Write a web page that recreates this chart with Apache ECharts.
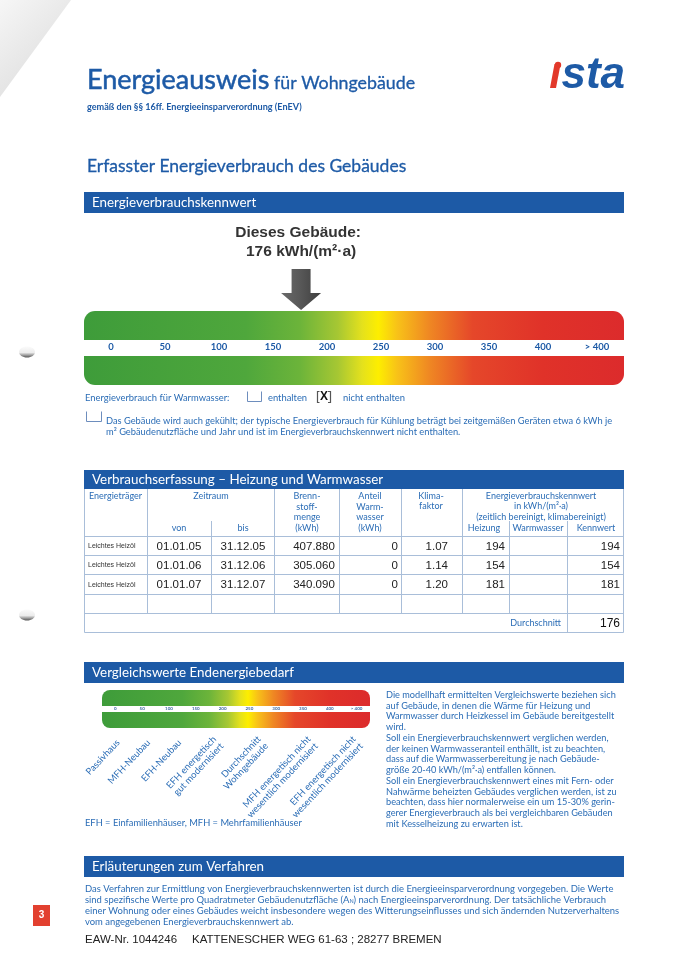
<!DOCTYPE html>
<html>
<head>
<meta charset="utf-8" />
<title>Energieausweis</title>
<script src="https://cdn.jsdelivr.net/npm/echarts@6/dist/echarts.min.js"></script>
<style>
  html, body { margin: 0; padding: 0; background: #fff; }
  #page { width: 673px; height: 960px; }
</style>
</head>
<body>
<div id="page"></div>
<script type="text/javascript">
// Skala Energieverbrauchskennwert
var scaleLabels = ["0", "50", "100", "150", "200", "250", "300", "350", "400", "> 400"];
var scaleMin = -25, scaleMax = 475;
var buildingValue = 176;

// Vergleichswerte (Lage auf der kleinen Skala)
var compareNames = ["Passivhaus", "MFH-Neubau", "EFH-Neubau", "EFH energetisch\ngut modernisiert",
  "Durchschnitt\nWohngebäude", "MFH energetisch nicht\nwesentlich modernisiert",
  "EFH energetisch nicht\nwesentlich modernisiert"];
var compareValues = [5, 62, 120, 192, 275, 368, 452];

// Verbrauchserfassung
var carriers = ["Leichtes Heizöl", "Leichtes Heizöl", "Leichtes Heizöl"];
var periodFrom = ["01.01.05", "01.01.06", "01.01.07"];
var periodTo = ["31.12.05", "31.12.06", "31.12.07"];
var fuelKwh = [407880, 305060, 340090];
var warmWaterKwh = [0, 0, 0];
var climateFactor = [1.07, 1.14, 1.20];
var heatingValue = [194, 154, 181];
var kennwert = [194, 154, 181];
var average = 176;

var blue = "#1d5aa6";
var textBlue = "#2b6db6";
var lineCol = "#a9bed9";
var bandStops = [
  { offset: 0, color: "#3e9c3a" }, { offset: 0.3, color: "#4fa73c" }, { offset: 0.4, color: "#6cb43a" },
  { offset: 0.47, color: "#a6c733" }, { offset: 0.515, color: "#e4e11d" }, { offset: 0.545, color: "#fdee00" },
  { offset: 0.58, color: "#f8c218" }, { offset: 0.64, color: "#ef8723" }, { offset: 0.72, color: "#e5472a" },
  { offset: 0.85, color: "#e03229" }, { offset: 1, color: "#dc2b2c" }
];

function fmtThousands(n) { return String(n).replace(/\B(?=(\d{3})+(?!\d))/g, "."); }

var g = [];
function T(x, y, text, o) {
  o = o || {};
  g.push({ type: "text", x: x, y: y, silent: true, z: 10, style: {
    text: text, fill: o.c || textBlue, fontSize: o.s || 9, fontFamily: o.f || "Lato",
    fontWeight: o.w || "normal", fontStyle: o.i || "normal", align: o.a || "left", verticalAlign: o.v || "middle",
    lineHeight: o.lh, rich: o.rich, stroke: o.st ? (o.c || textBlue) : null, lineWidth: o.st || 0 } });
}
function R(x, y, w, h, fill, r) {
  g.push({ type: "rect", silent: true, shape: { x: x, y: y, width: w, height: h, r: r || 0 }, style: { fill: fill } });
}
function L(x1, y1, x2, y2, c, w) {
  g.push({ type: "line", silent: true, z: 5, shape: { x1: x1, y1: y1, x2: x2, y2: y2 }, style: { stroke: c || lineCol, lineWidth: w || 1 } });
}
function P(points, c, w) {
  g.push({ type: "polyline", silent: true, shape: { points: points }, style: { stroke: c, lineWidth: w || 1, fill: null } });
}

// Papierecke und Lochung
g.push({ type: "polygon", silent: true, shape: { points: [[0, 0], [71, 0], [0, 97]] },
  style: { fill: new echarts.graphic.LinearGradient(0, 0, 1, 0.75, [
    { offset: 0, color: "#f6f6f6" }, { offset: 0.7, color: "#e4e4e4" }, { offset: 0.92, color: "#cdcdcd" }, { offset: 1, color: "#f0f0f0" }]) } });
[352, 615].forEach(function (y) {
  g.push({ type: "ellipse", silent: true, shape: { cx: 27, cy: y, rx: 8, ry: 5.5 },
    style: { fill: new echarts.graphic.LinearGradient(0, 0, 0, 1, [
      { offset: 0, color: "#fbfbfb" }, { offset: 0.55, color: "#ececec" }, { offset: 0.8, color: "#999" }, { offset: 1, color: "#555" }]) } });
});

// Kopf
T(87, 80, "Energieausweis", { s: 27, c: blue, st: 0.5 });
T(274, 83, "für Wohngebäude", { s: 17.8, c: blue, st: 0.3 });
T(87, 107, "gemäß den §§ 16ff. Energieeinsparverordnung (EnEV)", { s: 9.1, w: "bold", c: blue });
T(625, 76, "{r|ı}{b|sta}", { s: 44, a: "right", rich: {
  r: { fill: "#e2382a", fontSize: 44, fontFamily: "Liberation Sans", fontWeight: "bold", fontStyle: "italic" },
  b: { fill: blue, fontSize: 44, fontFamily: "Liberation Sans", fontWeight: "bold", fontStyle: "italic" } } });
g.push({ type: "circle", silent: true, shape: { cx: 558, cy: 65, r: 3.2 }, style: { fill: "#e2382a" } });
T(87, 166, "Erfasster Energieverbrauch des Gebäudes", { s: 17.5, c: blue, st: 0.3 });

// Blaue Balken
function bar(y, h, title, s) { R(84, y, 540, h, blue); T(92, y + h / 2, title, { s: s, c: "#fff" }); }
bar(192, 21, "Energieverbrauchskennwert", 13.4);
bar(470, 19, "Verbrauchserfassung – Heizung und Warmwasser", 13.4);
bar(662, 21, "Vergleichswerte Endenergiebedarf", 13.4);
bar(856, 21, "Erläuterungen zum Verfahren", 13.4);

// Warmwasser / Kühlung
var bs = 9.4;
T(85, 397.5, "Energieverbrauch für Warmwasser:", { s: bs });
P([[247.5, 391.5], [247.5, 401.5], [261.5, 401.5], [261.5, 391.5]], "#6d8dbd");
T(268, 397.5, "enthalten", { s: bs });
P([[319.5, 391.5], [317.5, 391.5], [317.5, 402.5], [319.5, 402.5]], "#555", 1.2);
P([[328, 391.5], [330.5, 391.5], [330.5, 402.5], [328, 402.5]], "#555", 1.2);
T(324, 397, "X", { s: 12, w: "bold", c: "#111", f: "Liberation Sans", a: "center" });
T(343, 397.5, "nicht enthalten", { s: bs });
P([[86.5, 411.5], [86.5, 421.5], [101.5, 421.5], [101.5, 411.5]], "#6d8dbd");
T(106, 420.5, "Das Gebäude wird auch gekühlt; der typische Energieverbrauch für Kühlung beträgt bei zeitgemäßen Geräten etwa 6 kWh je", { s: 9.3 });
T(106, 431.5, "m² Gebäudenutzfläche und Jahr und ist im Energieverbrauchskennwert nicht enthalten.", { s: 9.3 });

// Tabelle
var cols = [84.5, 147.5, 211.5, 274.5, 339.5, 401.5, 462.5, 509.5, 567.5, 623.5];
var rowY = [489, 536.5, 555.5, 574.5, 594.5, 613.5, 632.5];
L(cols[0], 489, cols[0], rowY[6]); L(cols[9], 489, cols[9], rowY[6]);
for (var r = 1; r < rowY.length; r++) L(cols[0], rowY[r], cols[9], rowY[r]);
[1, 3, 4, 5, 6].forEach(function (c) { L(cols[c], 489, cols[c], rowY[5]); });
[2, 7, 8].forEach(function (c) { L(cols[c], 521, cols[c], rowY[5]); });
L(cols[8], rowY[5], cols[8], rowY[6]);

var hs = 9, hl = 10.5;
T(89, 496, "Energieträger", { s: hs });
T(211, 496, "Zeitraum", { s: hs, a: "center" });
T(179, 528, "von", { s: hs, a: "center" });
T(243, 528, "bis", { s: hs, a: "center" });
T(307, 512, "Brenn-\nstoff-\nmenge\n(kWh)", { s: hs, a: "center", lh: hl });
T(370, 512, "Anteil\nWarm-\nwasser\n(kWh)", { s: hs, a: "center", lh: hl });
T(431, 501, "Klima-\nfaktor", { s: hs, a: "center", lh: hl });
T(541, 506.5, "Energieverbrauchskennwert\nin kWh/(m²·a)\n(zeitlich bereinigt, klimabereinigt)", { s: hs, a: "center", lh: hl });
T(484, 528, "Heizung", { s: hs, a: "center" });
T(538, 528, "Warmwasser", { s: hs, a: "center" });
T(596, 528, "Kennwert", { s: hs, a: "center" });

var ds = 11.5, dc = "#222", df = "Liberation Sans";
for (var i = 0; i < carriers.length; i++) {
  var cy = (rowY[i + 1] + rowY[i + 2]) / 2 + 0.5;
  T(88, cy, carriers[i], { s: 7, c: "#333", f: df });
  T(179, cy, periodFrom[i], { s: ds, c: dc, f: df, a: "center" });
  T(243, cy, periodTo[i], { s: ds, c: dc, f: df, a: "center" });
  T(314, cy, fmtThousands(fuelKwh[i]), { s: ds, c: dc, f: df, a: "center" });
  T(398, cy, String(warmWaterKwh[i]), { s: ds, c: dc, f: df, a: "right" });
  T(448, cy, climateFactor[i].toFixed(2), { s: ds, c: dc, f: df, a: "right" });
  T(505, cy, String(heatingValue[i]), { s: ds, c: dc, f: df, a: "right" });
  T(620, cy, String(kennwert[i]), { s: ds, c: dc, f: df, a: "right" });
}
T(561, 623, "Durchschnitt", { s: hs, a: "right" });
T(620, 623.5, String(average), { s: 12, c: "#111", f: df, a: "right" });

// Vergleichswerte Text
var cmpText = [
  "Die modellhaft ermittelten Vergleichswerte beziehen sich",
  "auf Gebäude, in denen die Wärme für Heizung und",
  "Warmwasser durch Heizkessel im Gebäude bereitgestellt",
  "wird.",
  "Soll ein Energieverbrauchskennwert verglichen werden,",
  "der keinen Warmwasseranteil enthällt, ist zu beachten,",
  "dass auf die Warmwasserbereitung je nach Gebäude-",
  "größe 20-40 kWh/(m²·a) entfallen können.",
  "Soll ein Energieverbrauchskennwert eines mit Fern- oder",
  "Nahwärme beheizten Gebäudes verglichen werden, ist zu",
  "beachten, dass hier normalerweise ein um 15-30% gerin-",
  "gerer Energieverbrauch als bei vergleichbaren Gebäuden",
  "mit Kesselheizung zu erwarten ist."
];
cmpText.forEach(function (s, k) { T(386, 695 + k * 10.75, s, { s: 9.2 }); });
T(85, 823, "EFH = Einfamilienhäuser, MFH = Mehrfamilienhäuser", { s: 9.3 });

// Erläuterungen
var expl = [
  "Das Verfahren zur Ermittlung von Energieverbrauchskennwerten ist durch die Energieeinsparverordnung vorgegeben. Die Werte",
  "sind spezifische Werte pro Quadratmeter Gebäudenutzfläche (A{sub|N}) nach Energieeinsparverordnung. Der tatsächliche Verbrauch",
  "einer Wohnung oder eines Gebäudes weicht insbesondere wegen des Witterungseinflusses und sich ändernden Nutzerverhaltens",
  "vom angegebenen Energieverbrauchskennwert ab."
];
expl.forEach(function (s, k) {
  T(85, 888.5 + k * 11.2, s, { s: 9.45, rich: { sub: { fontSize: 5.5, fill: textBlue, fontFamily: "Lato", verticalAlign: "bottom", padding: [4, 0, 0, 0] } } });
});
R(33, 905, 17, 21, "#e2402f");
T(41.5, 915.5, "3", { s: 10, w: "bold", c: "#fff", a: "center", f: "Liberation Sans" });
T(85, 940, "EAW-Nr. 1044246", { s: 11.5, c: "#222", f: df });
T(192, 940, "KATTENESCHER WEG 61-63 ; 28277 BREMEN", { s: 11.5, c: "#222", f: df });

// Farbskalen
function makeBand(frac, radius) {
  return function (params, api) {
    var a = api.coord([api.value(0), 0]);
    var b = api.coord([api.value(1), 0]);
    var top = params.coordSys.y, h = params.coordSys.height;
    var bh = Math.round(h * frac);
    var fill = new echarts.graphic.LinearGradient(0, 0, 1, 0, bandStops);
    return { type: "group", children: [
      { type: "rect", shape: { x: a[0], y: top, width: b[0] - a[0], height: bh, r: [radius, radius, 0, 0] }, style: { fill: fill } },
      { type: "rect", shape: { x: a[0], y: top + h - bh, width: b[0] - a[0], height: bh, r: [0, 0, radius, radius] }, style: { fill: fill } }
    ] };
  };
}

function renderArrow(params, api) {
  var p = api.coord([api.value(0), 74]);
  var x = p[0], y = p[1] - 1;
  var fill = new echarts.graphic.LinearGradient(0, 0, 1, 0, [
    { offset: 0, color: "#6a6a6a" }, { offset: 0.5, color: "#575757" }, { offset: 1, color: "#3e3e3e" }]);
  return { type: "group", children: [
    { type: "polygon", shape: { points: [[x - 9.5, y - 41], [x + 9.5, y - 41], [x + 9.5, y - 17], [x + 20, y - 17], [x, y], [x - 20, y - 17], [x - 9.5, y - 17]] }, style: { fill: fill } },
    { type: "text", x: x - 3, y: y - 77, style: { text: "Dieses Gebäude:", align: "center", verticalAlign: "middle", fill: "#333", fontSize: 15.5, fontWeight: "bold", fontFamily: "Liberation Sans" } },
    { type: "text", x: x, y: y - 58, style: { text: api.value(0) + " kWh/(m²·a)", align: "center", verticalAlign: "middle", fill: "#333", fontSize: 15.5, fontWeight: "bold", fontFamily: "Liberation Sans" } }
  ] };
}

function renderCompare(params, api) {
  var p = api.coord([api.value(0), 0]);
  return { type: "text", x: p[0], y: p[1] + 13, rotation: Math.PI * 0.26, style: {
    text: compareNames[params.dataIndex], align: "right", verticalAlign: "middle",
    fill: textBlue, fontSize: 9.4, fontFamily: "Lato", lineHeight: 10 } };
}

var chart = echarts.init(document.getElementById("page"));
chart.setOption({
  animation: false,
  backgroundColor: "#fff",
  grid: [
    { left: 84, top: 311, width: 540, height: 74 },
    { left: 102, top: 690, width: 268, height: 38 }
  ],
  xAxis: [
    { gridIndex: 0, type: "category", data: scaleLabels, position: "bottom", offset: -30,
      axisLine: { show: false }, axisTick: { show: false }, splitLine: { show: false },
      axisLabel: { inside: true, margin: 3, interval: 0, color: blue, fontSize: 9.5, fontWeight: "bold", fontFamily: "Lato" } },
    { gridIndex: 0, type: "value", min: scaleMin, max: scaleMax, show: false },
    { gridIndex: 1, type: "category", data: scaleLabels, position: "bottom", offset: -16,
      axisLine: { show: false }, axisTick: { show: false }, splitLine: { show: false },
      axisLabel: { inside: true, margin: 1, interval: 0, color: "#3f68a3", fontSize: 4.5, fontWeight: "bold", fontFamily: "Lato" } },
    { gridIndex: 1, type: "value", min: scaleMin, max: scaleMax, show: false }
  ],
  yAxis: [
    { gridIndex: 0, type: "value", min: 0, max: 74, show: false },
    { gridIndex: 1, type: "value", min: 0, max: 38, show: false }
  ],
  graphic: g,
  series: [
    { type: "custom", xAxisIndex: 1, yAxisIndex: 0, silent: true, z: 1, encode: { x: [0, 1] },
      data: [[scaleMin, scaleMax]], renderItem: makeBand(0.395, 11) },
    { type: "custom", xAxisIndex: 1, yAxisIndex: 0, silent: true, z: 3,
      data: [[buildingValue, 74]], renderItem: renderArrow },
    { type: "custom", xAxisIndex: 3, yAxisIndex: 1, silent: true, z: 1, encode: { x: [0, 1] },
      data: [[scaleMin, scaleMax]], renderItem: makeBand(0.42, 8) },
    { type: "custom", xAxisIndex: 3, yAxisIndex: 1, silent: true, z: 2,
      data: compareValues.map(function (v) { return [v, 0]; }), renderItem: renderCompare }
  ]
});
</script>
</body>
</html>
